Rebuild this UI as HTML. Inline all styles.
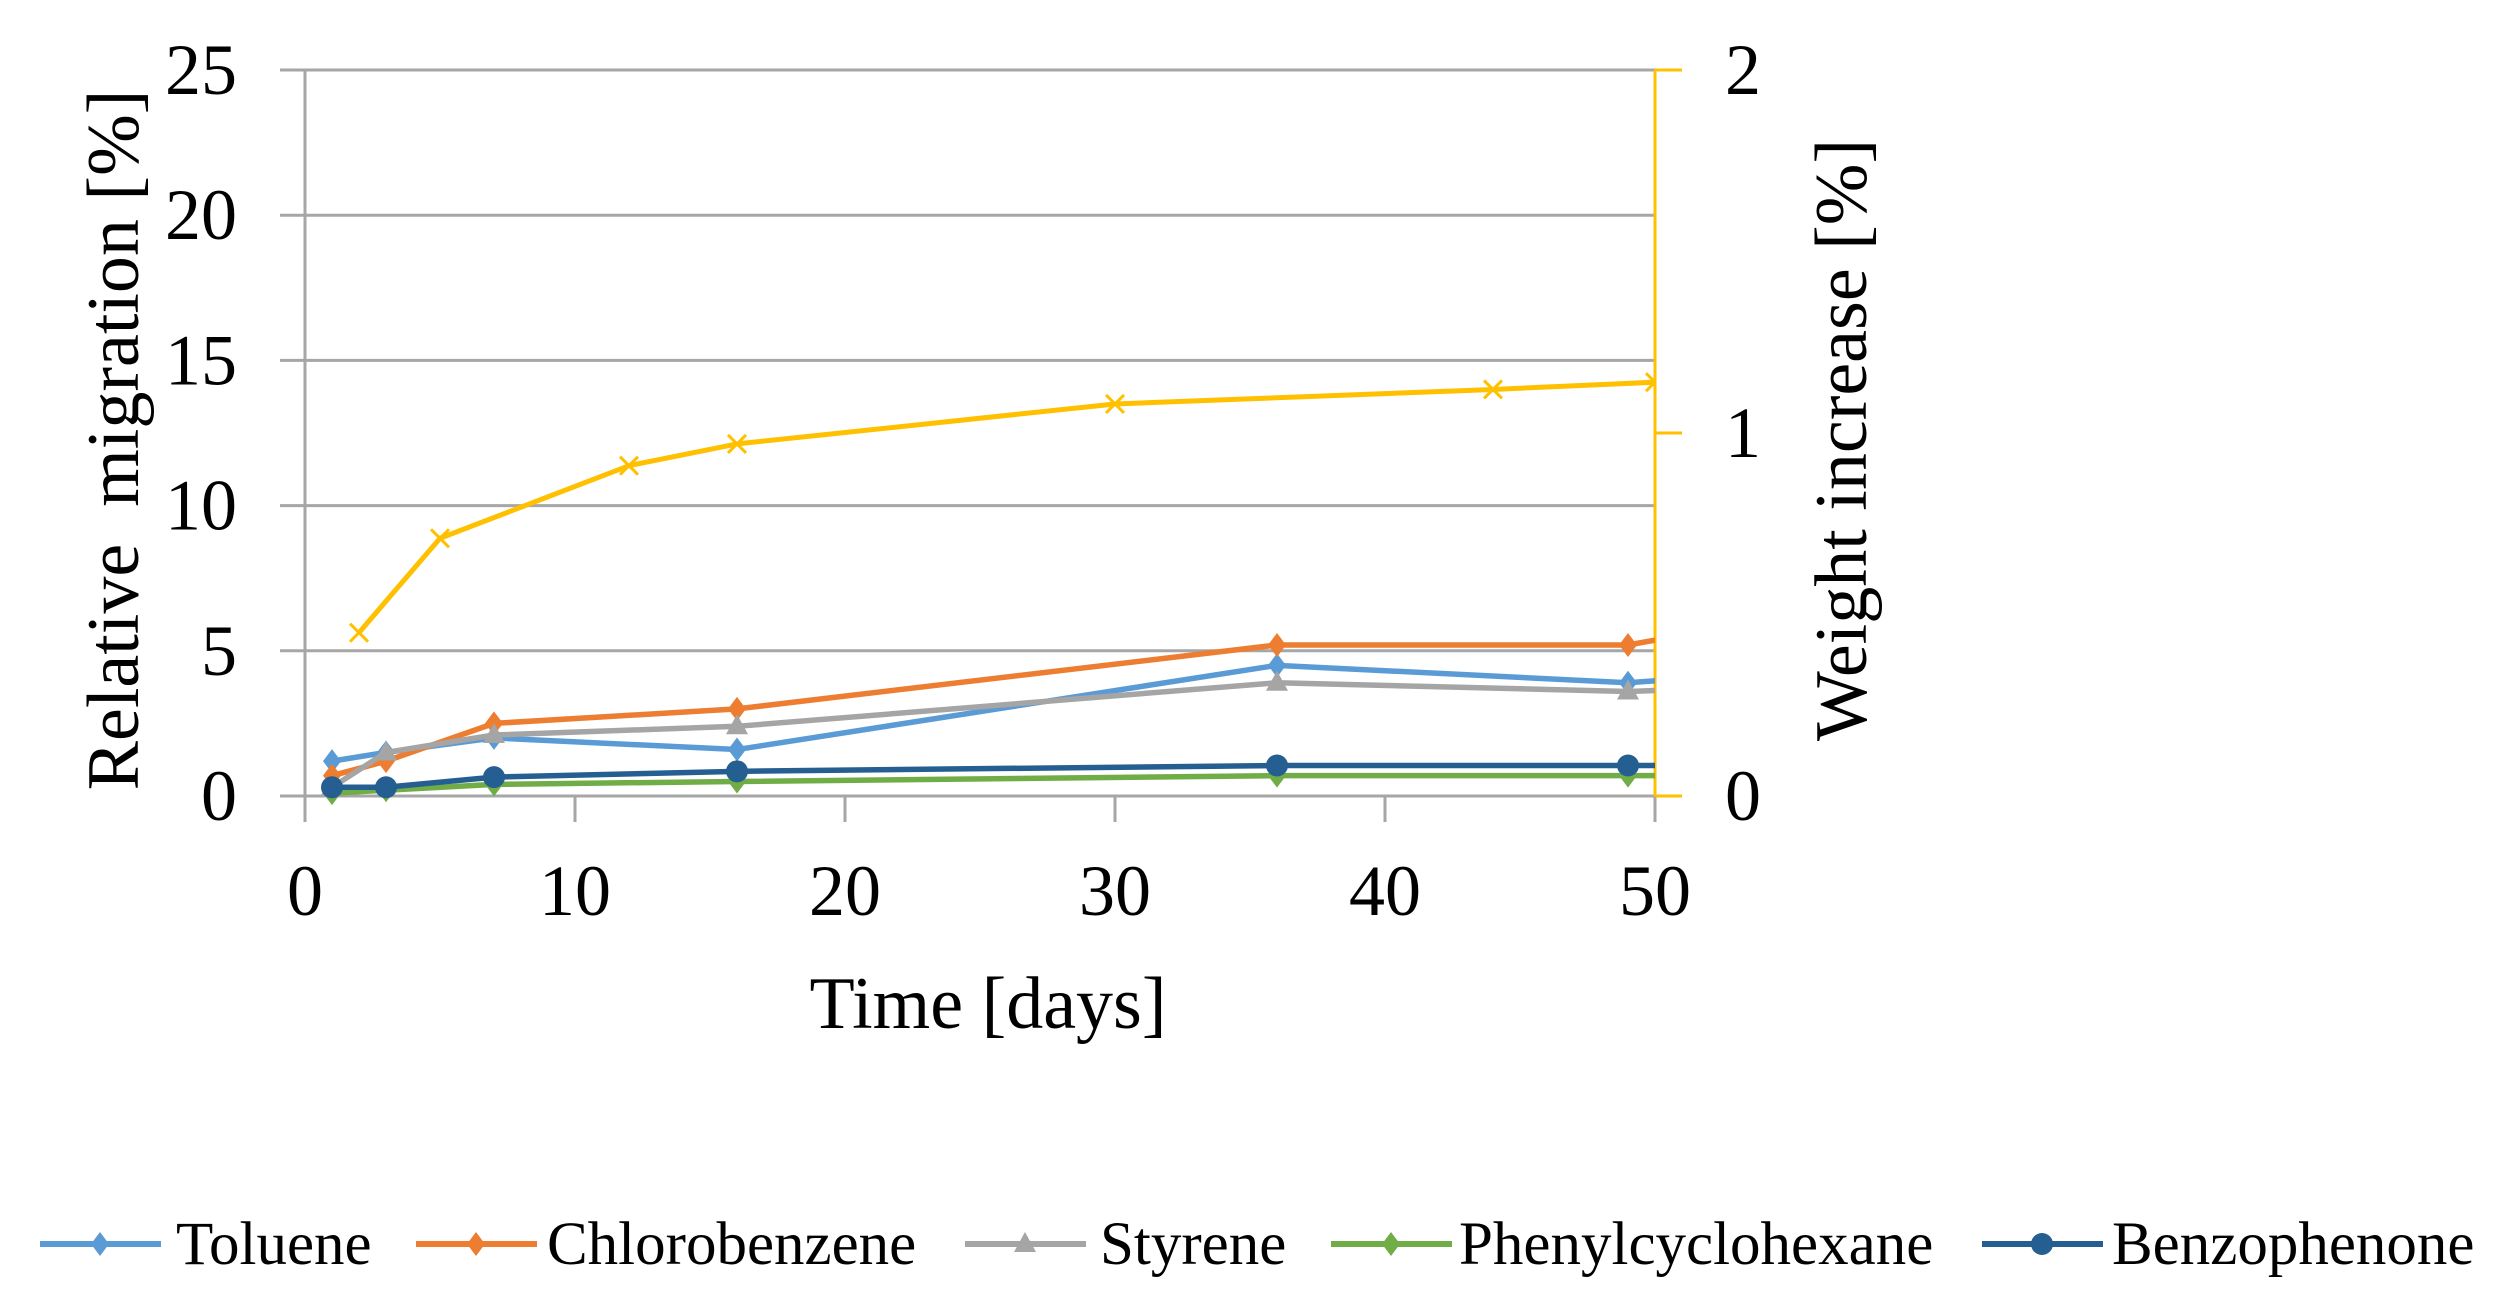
<!DOCTYPE html>
<html><head><meta charset="utf-8"><style>
html,body{margin:0;padding:0;background:#fff;}
svg{display:block;font-family:"Liberation Serif",serif;}
</style></head><body>
<svg id="chart" width="2506" height="1292" viewBox="0 0 2506 1292" xmlns="http://www.w3.org/2000/svg">
<g id="grid"></g>
<g id="axes"></g>
<defs><clipPath id="plotclip"><rect x="290" y="40" width="1365" height="800"/></clipPath></defs>
<g id="series" clip-path="url(#plotclip)"></g>
<text transform="translate(138,440) rotate(-90)" text-anchor="middle" font-size="74">Relative&#160; migration [%]</text>
<text transform="translate(1866,440) rotate(-90)" text-anchor="middle" font-size="74">Weight increase [%]</text>
<text x="988" y="1028" text-anchor="middle" font-size="74">Time [days]</text>
<g id="legend"></g>
</svg>
<script>
const xTicks = [0,10,20,30,40,50];
const yTicks = [0,5,10,15,20,25];
const y2Ticks = [0,1,2];
const seriesNames = ["Toluene","Chlorobenzene","Styrene","Phenylcyclohexane","Benzophenone"];
const days = [1,3,7,16,36,49,52];
const toluene = [1.2,1.5,2.0,1.6,4.5,3.9,4.1];
const chlorobenzene = [0.7,1.2,2.5,3.0,5.2,5.2,5.7];
const styrene = [0.3,1.5,2.1,2.4,3.9,3.6,3.7];
const phenylcyclohexane = [0.1,0.2,0.4,0.5,0.7,0.7,0.7];
const benzophenone = [0.3,0.3,0.65,0.85,1.05,1.05,1.05];
const weightDays = [2,5,12,16,30,44,50];
const weightIncrease = [0.45,0.71,0.91,0.97,1.08,1.12,1.14];

const NS="http://www.w3.org/2000/svg";
const X0=305,X1=1655,Y0=796,Y1=70;
const xs=v=>X0+(v/50)*(X1-X0);
const ys=v=>Y0-(v/25)*(Y0-Y1);
const ys2=v=>Y0-(v/2)*(Y0-Y1);
function mk(tag,attrs,parent){const e=document.createElementNS(NS,tag);for(const k in attrs)e.setAttribute(k,attrs[k]);parent.appendChild(e);return e;}
const grid=document.getElementById('grid'),axes=document.getElementById('axes'),ser=document.getElementById('series'),leg=document.getElementById('legend');

yTicks.forEach(t=>{
  const l=mk('line',{x1:280,x2:X1,y1:ys(t),y2:ys(t),stroke:'#a6a6a6','stroke-width':3},grid);
  
  
  const tx=mk('text',{x:237,y:ys(t)+24,'text-anchor':'end','font-size':72},axes);
  tx.textContent=t;
  
  
});
const ya=mk('line',{x1:X0,x2:X0,y1:Y1,y2:822,stroke:'#a6a6a6','stroke-width':3},axes);


xTicks.forEach(t=>{
  const l=mk('line',{x1:xs(t),x2:xs(t),y1:Y0,y2:822,stroke:'#a6a6a6','stroke-width':3},axes);
  
  
  const tx=mk('text',{x:xs(t),y:915,'text-anchor':'middle','font-size':72},axes);
  tx.textContent=t;
  
  
});
const y2a=mk('line',{x1:X1,x2:X1,y1:Y1,y2:Y0,stroke:'#ffc000','stroke-width':3},axes);


y2Ticks.forEach(t=>{
  const l=mk('line',{x1:X1,x2:X1+27,y1:ys2(t),y2:ys2(t),stroke:'#ffc000','stroke-width':3},axes);
  
  
  const tx=mk('text',{x:1743,y:ys2(t)+24,'text-anchor':'middle','font-size':72},axes);
  tx.textContent=t;
  
  
});

function marker(type,x,y,c,parent){
  let e;
  if(type==='diamond') e=mk('polygon',{points:`${x},${y-12} ${x+9},${y} ${x},${y+12} ${x-9},${y}`,fill:c},parent);
  else if(type==='triangle') e=mk('polygon',{points:`${x},${y-12} ${x+11},${y+8} ${x-11},${y+8}`,fill:c},parent);
  else if(type==='circle') e=mk('circle',{cx:x,cy:y,r:11,fill:c},parent);
  else e=mk('path',{d:`M${x-9},${y-9}L${x+9},${y+9}M${x+9},${y-9}L${x-9},${y+9}`,stroke:c,'stroke-width':3,fill:'none'},parent);
  return e;
}
const defs=[
 {name:'toluene',vals:toluene,c:'#5b9bd5',m:'diamond'},
 {name:'chlorobenzene',vals:chlorobenzene,c:'#ed7d31',m:'diamond'},
 {name:'styrene',vals:styrene,c:'#a5a5a5',m:'triangle'},
 {name:'phenylcyclohexane',vals:phenylcyclohexane,c:'#70ad47',m:'diamond'},
 {name:'benzophenone',vals:benzophenone,c:'#255e91',m:'circle'}
];
defs.forEach(d=>{
  const g=mk('g',{},ser);
  
  
  const pts=days.map((x,i)=>xs(x)+','+ys(d.vals[i])).join(' ');
  const pl=mk('polyline',{points:pts,fill:'none',stroke:d.c,'stroke-width':5.5,'stroke-linejoin':'round'},g);
  
  
  days.forEach((x,i)=>{
    const m=marker(d.m,xs(x),ys(d.vals[i]),d.c,g);
    
    
  });
});
const wg=mk('g',{},ser);


const wl=mk('polyline',{points:weightDays.map((x,i)=>xs(x)+','+ys2(weightIncrease[i])).join(' '),fill:'none',stroke:'#ffc000','stroke-width':5,'stroke-linejoin':'round'},wg);


weightDays.forEach((x,i)=>{
  const m=marker('x',xs(x),ys2(weightIncrease[i]),'#ffc000',wg);
  
  
});

const legX=[[40,176],[416,547],[965,1100],[1331,1459],[1982,2112]];
defs.forEach((d,i)=>{
  const g=mk('g',{},leg);
  
  
  const [lx,tx]=legX[i];
  mk('line',{x1:lx,x2:lx+121,y1:1244,y2:1244,stroke:d.c,'stroke-width':6},g);
  marker(d.m,lx+60,1244,d.c,g);
  const t=mk('text',{x:tx,y:1264,'font-size':61},g);
  t.textContent=seriesNames[i];
});
</script>
</body></html>
